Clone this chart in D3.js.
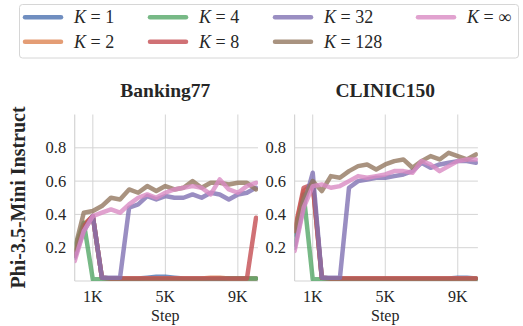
<!DOCTYPE html>
<html>
<head>
<meta charset="utf-8">
<script src="https://cdn.jsdelivr.net/npm/d3@7"></script>
<style>
  body { margin: 0; background: #fff; }
  svg { display: block; }
  text { font-family: "Liberation Serif", "Times New Roman", serif; fill: #262626; }
</style>
</head>
<body>
<div id="chart"></div>
<script>

// training steps (x)
var steps = [0, 500, 1000, 1500, 2000, 2500, 3000, 3500, 4000, 4500, 5000,
             5500, 6000, 6500, 7000, 7500, 8000, 8500, 9000, 9500, 10000];

var kNames = ["1", "2", "4", "8", "32", "128", "\u221e"];
var kColors = ["#4c72b0", "#dd8452", "#55a868", "#c44e52", "#8172b3", "#937860", "#da8bc3"];

var xTicks = [1000, 5000, 9000];
var xTickLabels = ["1K", "5K", "9K"];
var yTicks = [0.2, 0.4, 0.6, 0.8];

// Banking77
var bank_k1   = [0.15, 0.33, 0.39, 0.02, 0.015, 0.015, 0.015, 0.015, 0.02, 0.025, 0.025, 0.02, 0.015, 0.015, 0.015, 0.015, 0.015, 0.015, 0.015, 0.015, 0.015];
var bank_k2   = [0.16, 0.34, 0.39, 0.02, 0.015, 0.015, 0.015, 0.015, 0.015, 0.015, 0.015, 0.015, 0.015, 0.015, 0.015, 0.02, 0.02, 0.015, 0.015, 0.015, 0.015];
var bank_k4   = [0.20, 0.35, 0.01, 0.01, 0.01, 0.01, 0.01, 0.01, 0.01, 0.01, 0.01, 0.01, 0.01, 0.01, 0.01, 0.01, 0.012, 0.015, 0.015, 0.015, 0.015];
var bank_k8   = [0.15, 0.33, 0.39, 0.02, 0.015, 0.015, 0.015, 0.015, 0.015, 0.015, 0.015, 0.015, 0.015, 0.015, 0.015, 0.015, 0.015, 0.015, 0.015, 0.015, 0.38];
var bank_k32  = [0.14, 0.30, 0.39, 0.02, 0.02, 0.02, 0.44, 0.46, 0.51, 0.49, 0.51, 0.50, 0.50, 0.52, 0.50, 0.53, 0.52, 0.49, 0.52, 0.53, 0.56];
var bank_k128 = [0.19, 0.41, 0.42, 0.45, 0.50, 0.49, 0.55, 0.53, 0.57, 0.54, 0.57, 0.55, 0.56, 0.60, 0.56, 0.59, 0.59, 0.58, 0.59, 0.59, 0.55];
var bank_kinf = [0.12, 0.30, 0.39, 0.41, 0.43, 0.41, 0.46, 0.50, 0.52, 0.50, 0.53, 0.55, 0.56, 0.57, 0.56, 0.52, 0.61, 0.55, 0.53, 0.57, 0.59];

// CLINIC150
var clinic_k1   = [0.28, 0.50, 0.60, 0.02, 0.015, 0.015, 0.015, 0.015, 0.015, 0.015, 0.015, 0.015, 0.015, 0.015, 0.015, 0.015, 0.015, 0.015, 0.02, 0.02, 0.015];
var clinic_k2   = [0.30, 0.54, 0.58, 0.02, 0.015, 0.015, 0.015, 0.015, 0.015, 0.015, 0.015, 0.015, 0.015, 0.015, 0.015, 0.015, 0.015, 0.015, 0.015, 0.015, 0.015];
var clinic_k4   = [0.22, 0.52, 0.01, 0.01, 0.01, 0.01, 0.01, 0.01, 0.01, 0.01, 0.01, 0.01, 0.01, 0.01, 0.01, 0.01, 0.01, 0.01, 0.01, 0.01, 0.012];
var clinic_k8   = [0.30, 0.56, 0.58, 0.02, 0.015, 0.015, 0.015, 0.015, 0.015, 0.015, 0.015, 0.015, 0.015, 0.015, 0.015, 0.015, 0.015, 0.015, 0.015, 0.015, 0.015];
var clinic_k32  = [0.20, 0.45, 0.65, 0.02, 0.02, 0.02, 0.56, 0.60, 0.61, 0.62, 0.62, 0.63, 0.64, 0.66, 0.71, 0.68, 0.70, 0.71, 0.72, 0.72, 0.71];
var clinic_k128 = [0.30, 0.49, 0.60, 0.54, 0.63, 0.62, 0.66, 0.69, 0.70, 0.67, 0.70, 0.72, 0.73, 0.68, 0.72, 0.75, 0.73, 0.77, 0.75, 0.73, 0.76];
var clinic_kinf = [0.18, 0.44, 0.57, 0.58, 0.56, 0.57, 0.60, 0.63, 0.62, 0.63, 0.64, 0.66, 0.66, 0.65, 0.72, 0.70, 0.66, 0.69, 0.72, 0.73, 0.73];

var panels = [
  { title: "Banking77", left: 74.7, series: [bank_k1, bank_k2, bank_k4, bank_k8, bank_k32, bank_k128, bank_kinf] },
  { title: "CLINIC150", left: 294.6, series: [clinic_k1, clinic_k2, clinic_k4, clinic_k8, clinic_k32, clinic_k128, clinic_kinf] }
];

/////////////////////////////////////////////////////////////////////

var W = 523, H = 326;
var plotW = 181.3, plotTop = 114.5, plotBottom = 281;
var gridColor = "#d4d4d4";

var svg = d3.select("#chart").append("svg")
    .attr("width", W)
    .attr("height", H);

svg.append("rect").attr("width", W).attr("height", H).attr("fill", "#fff");

var y = d3.scaleLinear().domain([0, 1]).range([plotBottom, plotTop]);

panels.forEach(function(p, pi) {
  var x = d3.scaleLinear().domain([0, 10000]).range([p.left, p.left + plotW]);
  var g = svg.append("g");

  // clip
  var clipId = "clip" + pi;
  svg.append("clipPath").attr("id", clipId)
    .append("rect")
    .attr("x", p.left).attr("y", plotTop)
    .attr("width", plotW + 2).attr("height", plotBottom - plotTop);

  // grid
  g.selectAll(".hg").data(yTicks).enter().append("line")
    .attr("x1", p.left).attr("x2", p.left + plotW + 2)
    .attr("y1", d => y(d)).attr("y2", d => y(d))
    .attr("stroke", gridColor).attr("stroke-width", 1);

  g.selectAll(".vg").data(xTicks).enter().append("line")
    .attr("x1", d => x(d)).attr("x2", d => x(d))
    .attr("y1", plotTop).attr("y2", plotBottom)
    .attr("stroke", gridColor).attr("stroke-width", 1);

  // spines
  g.append("line").attr("x1", p.left).attr("x2", p.left)
    .attr("y1", plotTop).attr("y2", plotBottom)
    .attr("stroke", gridColor).attr("stroke-width", 1.2);
  g.append("line").attr("x1", p.left).attr("x2", p.left + plotW + 2)
    .attr("y1", plotBottom).attr("y2", plotBottom)
    .attr("stroke", gridColor).attr("stroke-width", 1.2);

  // tick labels
  g.selectAll(".yl").data(yTicks).enter().append("text")
    .attr("x", p.left - 8.5)
    .attr("y", d => y(d) + 5.5)
    .attr("text-anchor", "end")
    .attr("font-size", 16.5)
    .text(d => d.toFixed(1));

  g.selectAll(".xl").data(xTicks).enter().append("text")
    .attr("x", d => x(d))
    .attr("y", 302)
    .attr("text-anchor", "middle")
    .attr("font-size", 16)
    .text((d, i) => xTickLabels[i]);

  g.append("text")
    .attr("x", p.left + plotW / 2)
    .attr("y", 321)
    .attr("text-anchor", "middle")
    .attr("font-size", 16)
    .text("Step");

  g.append("text")
    .attr("x", p.left + plotW / 2)
    .attr("y", 97)
    .attr("text-anchor", "middle")
    .attr("font-size", 19.5)
    .attr("font-weight", "bold")
    .text(p.title);

  // lines
  var line = d3.line()
    .x((d, i) => x(steps[i]))
    .y(d => y(d));

  var lg = g.append("g").attr("clip-path", "url(#" + clipId + ")");
  p.series.forEach(function(s, k) {
    lg.append("path")
      .attr("d", line(s))
      .attr("fill", "none")
      .attr("stroke", kColors[k])
      .attr("stroke-opacity", 0.8)
      .attr("stroke-width", 4.5)
      .attr("stroke-linejoin", "round")
      .attr("stroke-linecap", "round");
  });
});

// y label
svg.append("text")
  .attr("transform", "translate(24.5,197.5) rotate(-90)")
  .attr("text-anchor", "middle")
  .attr("font-size", 20)
  .attr("font-weight", "bold")
  .text("Phi-3.5-Mini Instruct");

// legend
var legend = svg.append("g");
legend.append("rect")
  .attr("x", 19.5).attr("y", 4.5)
  .attr("width", 499).attr("height", 53.5)
  .attr("rx", 3)
  .attr("fill", "#fff")
  .attr("stroke", "#d6d6d6")
  .attr("stroke-width", 1);

var colX = [23, 148, 273, 416];
var rowY = [17.3, 41.7];

kNames.forEach(function(name, i) {
  var cx = colX[Math.floor(i / 2)];
  var cy = rowY[i % 2];
  legend.append("line")
    .attr("x1", cx + 2).attr("x2", cx + 38)
    .attr("y1", cy).attr("y2", cy)
    .attr("stroke", kColors[i])
    .attr("stroke-opacity", 0.8)
    .attr("stroke-width", 4.5)
    .attr("stroke-linecap", "round");
  var t = legend.append("text")
    .attr("x", cx + 51)
    .attr("y", cy + 6)
    .attr("font-size", 18);
  t.append("tspan").attr("font-style", "italic").text("K");
  t.append("tspan").text(" = " + name);
});

</script>
</body>
</html>
